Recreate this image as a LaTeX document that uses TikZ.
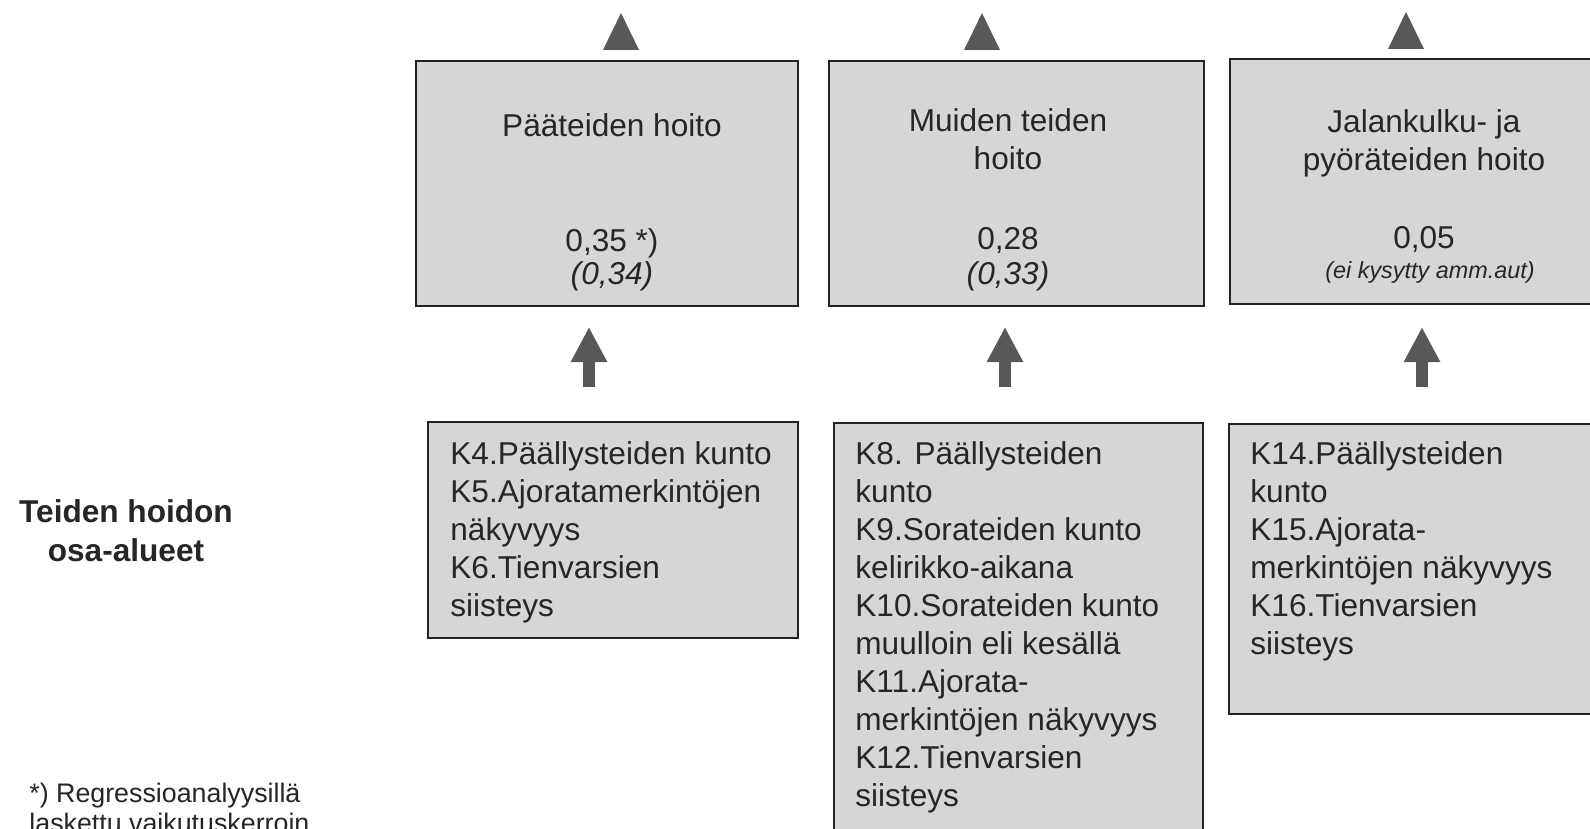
\documentclass[tikz,border=0pt]{standalone}
\usepackage{fontspec}
\setmainfont{Liberation Sans}
\usetikzlibrary{arrows.meta}
\definecolor{boxfill}{RGB}{214,214,216}
\definecolor{boxline}{RGB}{34,34,34}
\definecolor{txt}{RGB}{38,38,38}
\definecolor{arrowc}{RGB}{88,88,90}
\begin{document}
\begin{tikzpicture}[x=0.5pt,y=-0.5pt,
  box/.style={draw=boxline, fill=boxfill, line width=1.2pt, anchor=north west, inner sep=0pt},
  tx/.style={text=txt, inner sep=0pt, font=\fontsize{15.8}{19}\selectfont},
  itx/.style={text=txt, inner sep=0pt, font=\fontsize{15.8}{19}\selectfont\itshape},
  uparr/.style={draw=arrowc, line width=6pt, -{Triangle[width=17pt,length=17.5pt]}},
  tri/.style={fill=arrowc}]
\useasboundingbox (0,0) rectangle (1590,829);
\clip (0,0) rectangle (1590,829);
\fill[white] (0,0) rectangle (1590,829);

% upper boxes
\node[box, minimum width=191pt, minimum height=122.5pt] (up1) at (415,60) {};
\node[box, minimum width=187.5pt, minimum height=122.5pt] (up2) at (828,60) {};
\node[box, minimum width=198pt, minimum height=122.5pt] (up3) at (1229,58) {};

% top triangles
\fill[tri] (603,50) -- (639,50) -- (621,13) -- cycle;
\fill[tri] (964,50) -- (1000,50) -- (982,13) -- cycle;
\fill[tri] (1388,49) -- (1424,49) -- (1406,12) -- cycle;

% upper texts
\node[tx, anchor=north, align=center] (h1) at (612,113.5) {Pääteiden hoito};
\node[tx, anchor=base] (v1) at (612,251) {0,35 *)};
\node[itx, anchor=base] (w1) at (612,284) {(0,34)};

\node[tx, anchor=north, align=center] (h2) at (1008,108.5) {Muiden teiden\\hoito};
\node[tx, anchor=base] (v2) at (1008,249) {0,28};
\node[itx, anchor=base] (w2) at (1008,284) {(0,33)};

\node[tx, anchor=north, align=center] (h3) at (1424,109.5) {Jalankulku- ja\\pyöräteiden hoito};
\node[tx, anchor=base] (v3) at (1424,248) {0,05};
\node[text=txt, inner sep=0pt, font=\fontsize{11.7}{14}\selectfont\itshape, anchor=base] (w3) at (1430,278) {(ei kysytty amm.aut)};

% lower boxes
\node[box, minimum width=185pt, minimum height=108pt] (lw1) at (427,421) {};
\node[box, minimum width=184.5pt, minimum height=224pt] (lw2) at (833,422) {};
\node[box, minimum width=198pt, minimum height=145pt] (lw3) at (1228,423) {};

\node[tx, anchor=north west, align=left] (l1) at (450,441) {K4.Päällysteiden kunto\\K5.Ajoratamerkintöjen\\näkyvyys\\K6.Tienvarsien\\siisteys};
\node[tx, anchor=north west, align=left] (l2) at (855,441) {K8. Päällysteiden\\kunto\\K9.Sorateiden kunto\\kelirikko-aikana\\K10.Sorateiden kunto\\muulloin eli kesällä\\K11.Ajorata-\\merkintöjen näkyvyys\\K12.Tienvarsien\\siisteys};
\node[tx, anchor=north west, align=left] (l3) at (1250,441) {K14.Päällysteiden\\kunto\\K15.Ajorata-\\merkintöjen näkyvyys\\K16.Tienvarsien\\siisteys};

% up arrows between rows
\coordinate (a1s) at (589,387); \coordinate (a1e) at (589,327);
\coordinate (a2s) at (1005,387); \coordinate (a2e) at (1005,327);
\coordinate (a3s) at (1422,387); \coordinate (a3e) at (1422,327);
\draw[uparr] (a1s) -- (a1e);
\draw[uparr] (a2s) -- (a2e);
\draw[uparr] (a3s) -- (a3e);

% side label
\node[text=txt, inner sep=0pt, font=\fontsize{15.8}{19.5}\selectfont\bfseries, anchor=north, align=center] (side) at (126,499.5) {Teiden hoidon\\osa-alueet};

% footnote
\node[text=txt, inner sep=0pt, font=\fontsize{13.4}{15}\selectfont, anchor=north west, align=left] (fn) at (29,783) {*) Regressioanalyysillä\\laskettu vaikutuskerroin};
\end{tikzpicture}
\end{document}
